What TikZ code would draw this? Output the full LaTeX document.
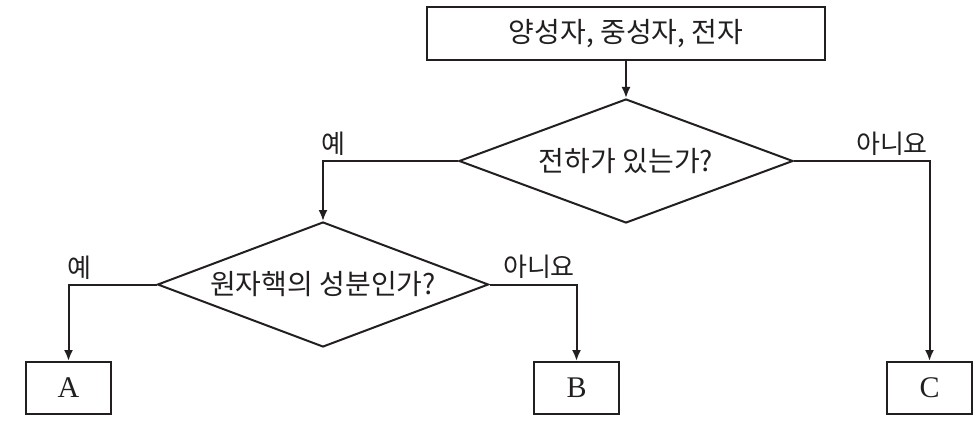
\documentclass[tikz,border=0pt]{standalone}
\usepackage{fontspec}
\newfontfamily\kr{Noto Sans CJK KR}
\newfontfamily\lat{Liberation Serif}
\usetikzlibrary{shapes.geometric,arrows.meta}
\definecolor{ink}{HTML}{231F20}
\tikzset{
  base/.style={draw=ink, line width=2pt, text=ink},
  box/.style={base, rectangle, inner sep=0pt},
  dia/.style={base, diamond, aspect=2.7, inner sep=0pt, font=\kr\fontsize{28}{31}\selectfont},
  kt/.style={font=\kr\fontsize{28}{31}\selectfont, text=ink, inner sep=0pt},
  lt/.style={font=\kr\fontsize{26}{29}\selectfont, text=ink, inner sep=0pt},
  abc/.style={box, minimum width=85pt, minimum height=52pt, font=\lat\fontsize{30}{33}\selectfont},
  arr/.style={draw=ink, line width=2pt, -{Latex[length=11pt,width=9pt]}}
}
\begin{document}
\begin{tikzpicture}[x=1pt,y=-1pt]
\useasboundingbox (0,0) rectangle (979,422);
\node[box, kt, minimum width=398pt, minimum height=53pt] (top) at (626,34) {양성자, 중성자, 전자};
\node[dia, minimum width=334pt, minimum height=124pt] (d1) at (626,161) {전하가 있는가?};
\node[dia, minimum width=331pt, minimum height=125pt] (d2) at (323,284.5) {원자핵의 성분인가?};
\node[abc] (A) at (68.5,388) {A};
\node[abc] (B) at (576.5,388) {B};
\node[abc] (C) at (929.5,388) {C};
\draw[arr] (top) -- (d1);
\draw[arr] (d1.west) -| (d2.north);
\draw[arr] (d1.east) -| (C.north);
\draw[arr] (d2.west) -| (A.north);
\draw[arr] (d2.east) -| (B.north);
\node[lt] (l1) at (333,144) {예};
\node[lt] (l2) at (892,144) {아니요};
\node[lt] (l3) at (79,268) {예};
\node[lt] (l4) at (539,267) {아니요};
\end{tikzpicture}
\end{document}
